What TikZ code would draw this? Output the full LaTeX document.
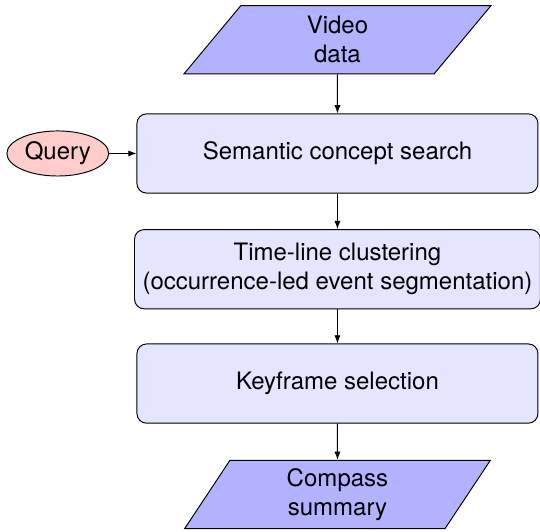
\documentclass[tikz,border=0pt]{standalone}
\usepackage{fontspec}
\setmainfont{TeX Gyre Heros}
\usetikzlibrary{shapes.geometric,positioning,arrows.meta}

\begin{document}
\begin{tikzpicture}[node distance=0.52cm,auto,
    io/.style={trapezium,trapezium left angle=70,trapezium right angle=110,trapezium stretches=true,
      draw,fill=blue!30,minimum width=4.5cm,minimum height=1cm,align=center},
    process/.style={rectangle,rounded corners,draw,fill=blue!10,minimum width=5.87cm,minimum height=1.16cm,align=center},
    input/.style={ellipse,draw,fill=red!20,inner sep=0pt,minimum width=1.49cm,minimum height=0.66cm}]
    \useasboundingbox (-4.94,-5.527) rectangle (2.965,2.247);

    \node[process] (search) {Semantic concept search};
    \node[io] (video) [above=0.57cm of search] {Video\\data};
    \node[input] (query) [left=0.4cm of search] {Query};
    \node[process] (cluster) [below=of search] {Time-line clustering\\(occurrence-led event segmentation)};
    \node[process] (keyframe) [below=0.5cm of cluster] {Keyframe selection};
    \node[io] (summary) [below=0.53cm of keyframe] {Compass\\summary};

    \path[-{Latex[length=1.2mm]}] (video) edge (search)
                     (query) edge (search)
                     (search) edge (cluster)
                     (cluster) edge (keyframe)
                     (keyframe) edge (summary);
\end{tikzpicture}
\end{document}
